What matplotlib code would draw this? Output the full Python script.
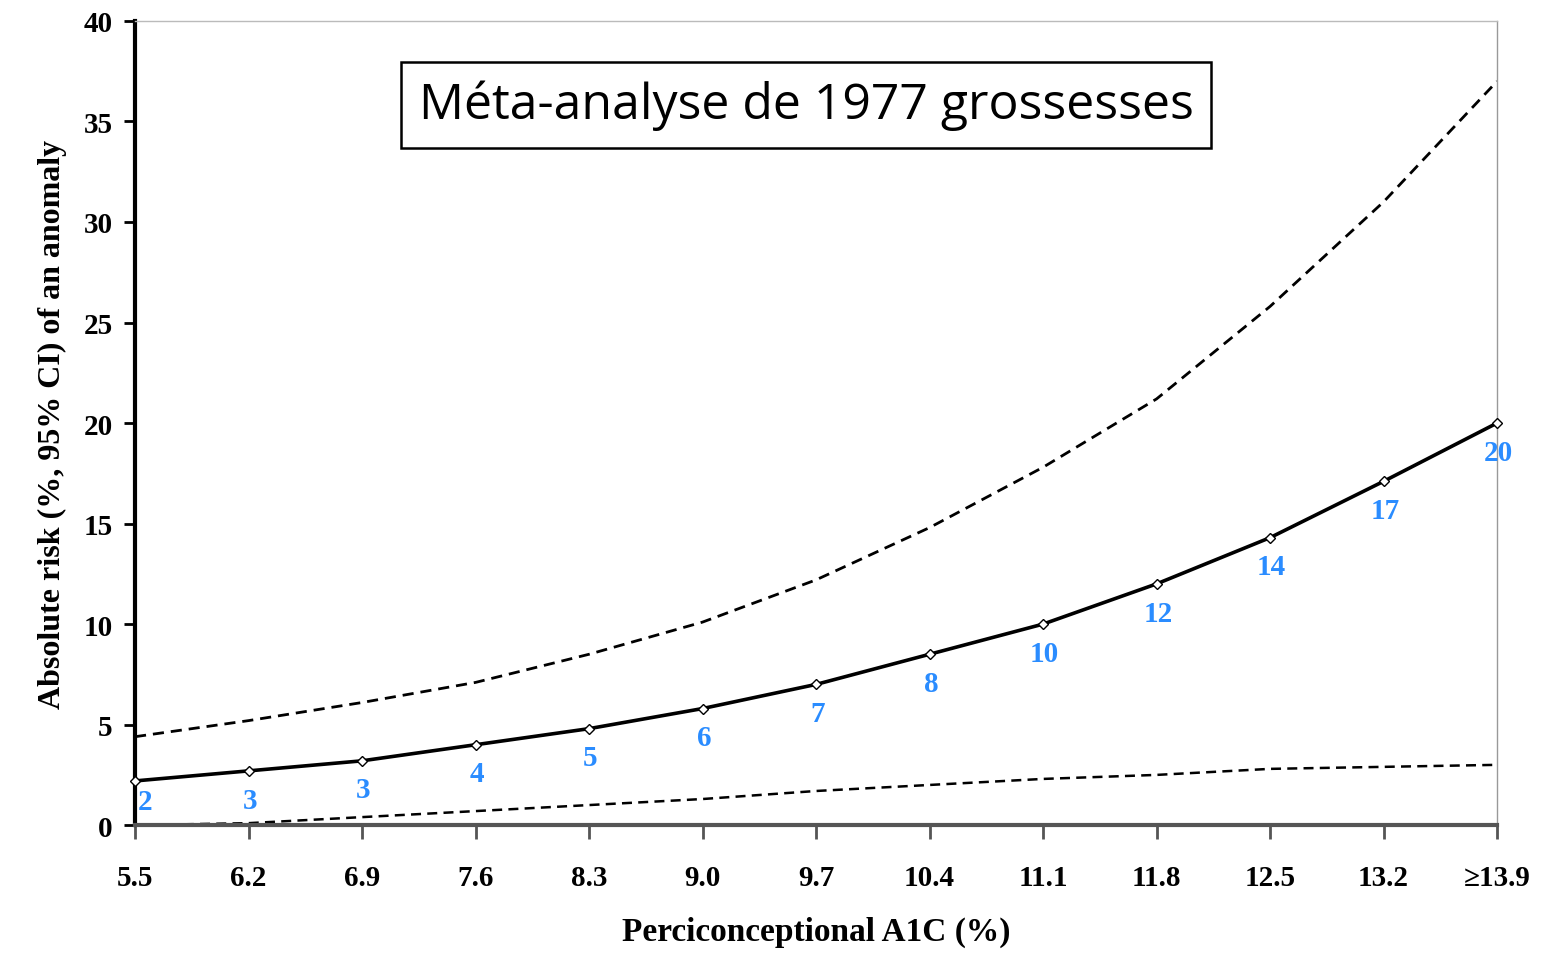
import matplotlib.pyplot as plt

a1c_labels = ["5.5", "6.2", "6.9", "7.6", "8.3", "9.0", "9.7",
              "10.4", "11.1", "11.8", "12.5", "13.2", "\u226513.9"]
risk = [2.2, 2.7, 3.2, 4.0, 4.8, 5.8, 7.0, 8.5, 10.0, 12.0, 14.3, 17.1, 20.0]
ci_upper = [4.4, 5.2, 6.1, 7.1, 8.5, 10.1, 12.2, 14.8, 17.8, 21.2, 25.8, 31.0, 37.0]
ci_lower = [0.0, 0.1, 0.4, 0.7, 1.0, 1.3, 1.7, 2.0, 2.3, 2.5, 2.8, 2.9, 3.0]
risk_labels = ["2", "3", "3", "4", "5", "6", "7", "8", "10", "12", "14", "17", "20"]

serif = ["Liberation Serif", "DejaVu Serif"]

fig = plt.figure(figsize=(15.52, 9.54), dpi=100)
ax = fig.add_axes([0.087, 0.134, 0.8776, 0.843])

x = list(range(len(a1c_labels)))
ax.plot(x, ci_upper, color="black", lw=2.0, ls=(0, (4, 2.5)))
ax.plot(x, ci_lower, color="black", lw=1.8, ls=(0, (4, 2.5)))
ax.plot(x, risk, color="black", lw=2.6, marker="D", ms=5,
        mfc="white", mec="black", mew=1.0, clip_on=False, zorder=3)

for xi, yi, lab in zip(x, risk, risk_labels):
    ax.annotate(lab, (xi, yi), xytext=(7 if xi == 0 else 1, -15 if xi == 0 else -21),
                textcoords="offset points", ha="center", va="center",
                color="#2a8cff", fontsize=21, fontweight="bold",
                family=serif, annotation_clip=False)

ax.set_xlim(0, 12)
ax.set_ylim(0, 40)
ax.set_yticks(range(0, 41, 5))
ax.set_xticks(x)
ax.set_xticklabels(a1c_labels)

for lab in ax.get_xticklabels() + ax.get_yticklabels():
    lab.set_family(serif)
    lab.set_fontweight("bold")
    lab.set_fontsize(21)

ax.spines["left"].set_linewidth(3)
ax.spines["left"].set_color("black")
ax.spines["bottom"].set_linewidth(3)
ax.spines["bottom"].set_color("#555555")
ax.spines["top"].set_linewidth(1)
ax.spines["top"].set_color("#bbbbbb")
ax.spines["right"].set_linewidth(1)
ax.spines["right"].set_color("#999999")
ax.tick_params(axis="y", direction="out", length=8, width=2, pad=8)
ax.tick_params(axis="x", direction="out", length=10, width=2, pad=18,
               color="#555555")

ax.set_xlabel("Perciconceptional A1C (%)", family=serif, fontweight="bold",
              fontsize=24, labelpad=18)
ax.set_ylabel("Absolute risk (%, 95% CI) of an anomaly", family=serif,
              fontweight="bold", fontsize=23, labelpad=12)

ax.text(0.4927, 0.8955, "M\u00e9ta-analyse de 1977 grossesses",
        transform=ax.transAxes, ha="center", va="center", fontsize=36,
        family=["Open Sans", "DejaVu Sans"],
        bbox=dict(boxstyle="square,pad=0.35", fc="white", ec="black", lw=1.8))

fig.savefig("out.png", dpi=100)
